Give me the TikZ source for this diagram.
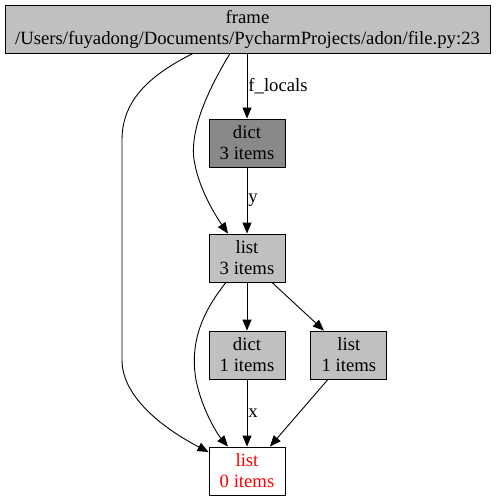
\documentclass[tikz,border=0pt]{standalone}
\usepackage{fontspec}
\setmainfont{Liberation Serif}
\usepackage{xcolor}
\usetikzlibrary{positioning, shapes, calc, arrows.meta}
\definecolor{boxgray}{rgb}{0.753, 0.753, 0.753}
\definecolor{darkgray}{rgb}{0.537, 0.537, 0.537}

\begin{document}
\begin{tikzpicture}[x=1pt, y=-1pt, line width=0.9pt,
		obj/.style={draw=black, fill=boxgray, rectangle, align=center, inner sep=0pt, minimum width=76pt, minimum height=48pt, font=\fontsize{18.7}{21}\selectfont},
		ref/.style={draw=black, -{Triangle[length=11pt,width=9pt]}},
		lbl/.style={font=\fontsize{18.7}{21}\selectfont, inner sep=1pt}]
			\useasboundingbox (0,0) rectangle (495,500);
			\pgfmathsetmacro{\gap}{17}
			
			\node[obj, minimum width=485pt] (frame) at (247.5,29) {frame\\/Users/fuyadong/Documents/PycharmProjects/adon/file.py:23};
			\node[obj, fill=darkgray] (dict3) at (247,143) {dict\\3 items};
			\node[obj] (list3) at (247,258) {list\\3 items};
			\node[obj] (dict1) at (247,355) {dict\\1 items};
			\node[obj, right=25pt of dict1] (list1) {list\\1 items};
			\node[obj, fill=white, text=red] (list0) at (247,471) {list\\0 items};
			
			\draw[ref] (frame.south -| dict3.north) -- node[lbl, right, pos=0.5] {f\_locals} (dict3);
			\draw[ref] (dict3) -- node[lbl, right, pos=0.5] {y} (list3);
			\draw[ref] ([xshift=-\gap pt]frame.south -| dict3.north) .. controls (205,95) and (188,135) .. (195,165) .. controls (200,190) and (215,215) .. ([xshift=-19pt]list3.north);
			\draw[ref] ([xshift=-54pt]frame.south -| dict3.north) .. controls (150,75) and (122,100) .. (122,140) -- (122,360) .. controls (122,400) and (170,432) .. ([yshift=19pt]list0.west);
			
			\draw[ref] (list3) -- (dict1);
			\draw[ref] ([xshift=25pt]list3.south) -- ([xshift=-25pt]list1.north);
			\draw[ref] ([xshift=-21pt]list3.south) .. controls (200,315) and (190,345) .. (196,380) .. controls (202,410) and (218,435) .. ([xshift=-19pt]list0.north);
			
			\draw[ref] (dict1) -- node[lbl, right, pos=0.5] {x} (list0);
			\draw[ref] ([xshift=-21pt]list1.south) -- ([xshift=23pt]list0.north);
\end{tikzpicture}
\end{document}
